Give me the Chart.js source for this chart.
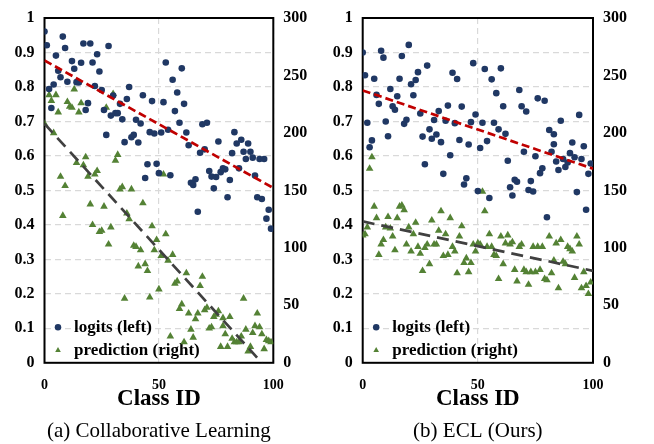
<!DOCTYPE html>
<html><head><meta charset="utf-8">
<script src="https://cdn.jsdelivr.net/npm/chart.js@4.4.1/dist/chart.umd.min.js"></script>
<style>
html,body{margin:0;padding:0;background:#fff;}
#wrap{position:relative;width:654px;height:444px;overflow:hidden;}
.pane{position:absolute;top:0;width:327px;height:444px;}
</style></head><body>
<div id="wrap">
<div class="pane" style="left:0"><canvas id="cA" width="327" height="444"></canvas></div>
<div class="pane" style="left:327px"><canvas id="cB" width="327" height="444"></canvas></div>
</div>
<script>
// ---------- (a) Collaborative Learning ----------
const clLogitsX = [0,1,2,3,4,5,6,7,8,9,10,12,13,14,15,16,17,18,19,20,21,22,23,24,25,26,27,28,29,30,31,32,33,34,35,36,37,38,39,40,41,42,43,44,45,46,47,48,49,50,51,52,53,54,55,56,57,58,59,60,61,62,63,64,65,66,67,68,69,70,71,72,73,74,75,76,77,78,79,80,81,82,83,84,85,86,87,88,89,90,91,92,93,94,95,96,97,98,99];
const clLogitsY = [0.961,0.921,0.794,0.739,0.807,0.891,0.847,0.828,0.946,0.913,
  0.815,0.875,0.853,0.814,0.813,0.870,0.926,0.733,0.753,0.926,
  0.871,0.803,0.895,0.845,0.791,0.733,0.661,0.919,0.717,0.775,
  0.724,0.724,0.751,0.706,0.640,0.765,0.800,0.654,0.661,0.705,
  0.639,0.694,0.776,0.536,0.576,0.669,0.759,0.665,0.577,0.550,
  0.668,0.756,0.871,0.676,0.544,0.821,0.730,0.784,0.696,0.854,
  0.751,0.668,0.631,0.522,0.516,0.532,0.438,0.609,0.692,0.619,
  0.696,0.556,0.540,0.506,0.539,0.642,0.553,0.564,0.561,0.480,
  0.530,0.608,0.669,0.636,0.564,0.647,0.612,0.591,0.636,0.612,
  0.595,0.543,0.480,0.591,0.475,0.591,0.418,0.444,0.389];
const clPredX = [0,2,3,4,5,6,7,8,9,10, 11,12,13,14,15,16,17,18,19,20, 21,22,23,24,25,26,27,28,29,30,
  31,32,33,34,35,36,37,38,39,40, 41,42,43,44,45,46,47,48,49,50, 51,52,53,54,55,56,57,58,59,60,
  61,62,63,64,65,66,67,68,69,70, 71,72,73,74,75,76,77,78,78,79, 80,81,82,83,84,85,86,87,88,89,
  90,91,92,93,94,95,96,97,98,99];
const clPredY = [208,233,228,200,233,218,162,128,154,227, 223,222,238,174,218,226,172,179,162,138,
  120,164,167,114,115,136,222,103,118,234, 176,181,151,153,56,130,125,151,102,101,
  84,98,139,86,80,57,119,98,107,64, 93,164,112,89,23,94,69,71,47,51,
  18,78,43,29,22,38,43,67,75,46, 48,30,31,40,42,45,14,32,39,25,
  14,40,21,18,18,18,23,56,29,10, 14,26,32,43,31,25,12,20,19,18];
const clTrendLogitsX = [0,100], clTrendLogitsY = [0.877,0.507];
const clTrendPredX = [0,95], clTrendPredY = [208,0];

// ---------- (b) ECL (Ours) ----------
const eclLogitsX = [0,1,2,3,4,5,6,7,8,9,10,11,12,13,14,15,16,17,18,19,20,21,22,23,24,25,26,27,28,29,
  30,31,32,33,34,35,36,37,38,39,40,41,42,43,44,45,46,47,48,49,50,51,52,53,54,55,56,57,58,59,
  60,61,62,63,64,65,66,67,68,69,70,71,72,73,74,75,76,77,78,79,80,81,82,83,83,84,85,86,87,88,89,
  90,91,92,93,94,95,96,97,98,99];
const eclLogitsY = [0.900,0.834,0.696,0.625,0.645,0.824,0.777,0.751,0.905,0.885,
  0.700,0.657,0.794,0.744,0.734,0.773,0.824,0.890,0.693,0.705,
  0.922,0.808,0.776,0.820,0.843,0.723,0.656,0.576,0.862,0.677,
  0.650,0.704,0.662,0.730,0.640,0.548,0.702,0.746,0.602,0.841,
  0.695,0.823,0.646,0.743,0.517,0.535,0.633,0.698,0.869,0.720,
  0.498,0.623,0.696,0.852,0.643,0.478,0.822,0.696,0.782,0.677,
  0.854,0.744,0.664,0.586,0.509,0.485,0.531,0.525,0.791,0.744,
  0.612,0.729,0.501,0.527,0.497,0.599,0.767,0.550,0.564,0.760,
  0.422,0.675,0.612,0.634,0.663,0.584,0.559,0.702,0.591,0.568,0.581,
  0.608,0.639,0.596,0.495,0.719,0.591,0.628,0.444,0.548,0.578];
const eclPredX = [0,1,2,3,4,5,6,7,8,9,10,11,12,13,14,15,16,17,18,19,20,21,22,23,24,25,26,27,28,29,
  30,31,32,33,34,35,36,37,38,39,40,41,42,43,44,45,46,47,48,49,50,51,52,53,54,55,56,57,58,59,
  60,61,62,63,64,65,66,67,68,69,70,71,72,73,74,75,76,77,78,79,80,81,82,83,84,85,86,87,88,89,
  90,91,92,93,94,95,96,97,98,99];
const eclPredY = [111,112,118,169,179,136,126,94,103,107,
  118,127,117,110,98,126,136,137,133,103,
  118,97,112,122,101,95,80,100,103,86,
  124,103,103,115,132,93,112,94,126,101,
  97,78,110,119,87,91,79,87,103,97,
  104,103,149,132,101,112,101,94,93,73,
  110,86,104,111,103,105,81,71,101,103,
  81,79,68,79,101,79,101,81,101,73,
  72,110,78,89,104,65,107,88,86,101,
  99,97,74,110,103,65,79,67,60,70];
const eclTrendLogitsX = [0,100], eclTrendLogitsY = [0.79,0.563];
const eclTrendPredX = [0,100], eclTrendPredY = [123,80];

const xTicks = [0,50,100];
const leftTicks = [0,0.1,0.2,0.3,0.4,0.5,0.6,0.7,0.8,0.9,1];
const rightTicks = [0,50,100,150,200,250,300];

// ---------- styling ----------
const FONT = "'Liberation Serif','Times New Roman',serif";
const NAVY = '#203864', GREEN = '#548235', RED = '#C00000', DGRAY = '#404040', GRID = '#d9d9d9';
const pts = (xs, ys) => xs.map((x, i) => ({x: x, y: ys[i]}));

const frame = {
  id: 'frame',
  afterLayout(chart) {
    // keep the in-plot legend anchored to the bottom-left of the plot area
    const lg = chart.legend, a = chart.chartArea;
    if (!lg) return;
    lg.left = a.left; lg.right = a.right;
    lg.top = a.top; lg.bottom = a.bottom + 2;
    lg.height = lg.bottom - lg.top; lg.width = lg.right - lg.left;
  },
  beforeDatasetsDraw(chart) {
    const {ctx, chartArea: a} = chart;
    ctx.save();
    ctx.strokeStyle = '#000';
    ctx.lineWidth = 2;
    ctx.strokeRect(a.left, a.top, a.right - a.left, a.bottom - a.top);
    ctx.restore();
  }
};

function build(id, d, L) {
  return new Chart(document.getElementById(id), {
    type: 'scatter',
    data: { datasets: [
      { label: 'logits (left)', data: pts(d.lx, d.ly), yAxisID: 'y', pointStyle: 'circle',
        pointRadius: 3.3, backgroundColor: NAVY, borderWidth: 0, order: 2 },
      { label: 'prediction (right)', data: pts(d.px, d.py), yAxisID: 'y2', pointStyle: 'triangle',
        pointRadius: 4.4, backgroundColor: GREEN, borderWidth: 0, order: 3 },
      { label: 'trend logits', data: pts(d.tlx, d.tly), yAxisID: 'y', showLine: true, pointRadius: 0,
        borderColor: RED, borderWidth: 2.7, borderDash: [8, 4], order: 1 },
      { label: 'trend prediction', data: pts(d.tpx, d.tpy), yAxisID: 'y2', showLine: true, pointRadius: 0,
        borderColor: DGRAY, borderWidth: 2.7, borderDash: [12, 7], order: 0 }
    ]},
    options: {
      responsive: false, animation: false, devicePixelRatio: 1, events: [],
      layout: { padding: { top: 8, left: 0, right: 0, bottom: 0 } },
      scales: {
        x: {
          type: 'linear', min: 0, max: 100,
          afterBuildTicks: s => { s.ticks = xTicks.map(v => ({value: v})); },
          afterFit: s => { s.height = 56; },
          ticks: { padding: 14, color: '#000', font: { family: FONT, size: 14, weight: 'bold', lineHeight: 1.2 } },
          grid: { color: GRID, lineWidth: 1.2, drawTicks: false },
          border: { display: false, dash: [6, 4] },
          title: { display: true, text: 'Class ID', color: '#000', padding: { top: 0, bottom: 6 },
                   font: { family: FONT, size: 23, weight: 'bold', lineHeight: 1.2 } }
        },
        y: {
          position: 'left', min: 0, max: 1,
          afterBuildTicks: s => { s.ticks = leftTicks.map(v => ({value: v})); },
          afterFit: s => { s.width = L.left; },
          ticks: { padding: 10, color: '#000', callback: v => String(+v.toFixed(1)),
                   font: { family: FONT, size: 16, weight: 'bold', lineHeight: 1 } },
          grid: { color: GRID, lineWidth: 1.2, drawTicks: false },
          border: { display: false, dash: [6, 4] }
        },
        y2: {
          position: 'right', min: 0, max: 300,
          afterBuildTicks: s => { s.ticks = rightTicks.map(v => ({value: v})); },
          afterFit: s => { s.width = L.right; },
          ticks: { padding: 10, color: '#000',
                   font: { family: FONT, size: 16, weight: 'bold', lineHeight: 1 } },
          grid: { display: false, drawTicks: false },
          border: { display: false }
        }
      },
      plugins: {
        tooltip: { enabled: false },
        legend: {
          position: 'chartArea', align: 'end',
          labels: {
            usePointStyle: true, boxWidth: 15, boxHeight: 4.6, padding: 6, color: '#000',
            font: { family: FONT, size: 17, weight: 'bold' },
            filter: it => it.datasetIndex < 2
          }
        },
        title: {
          display: true, position: 'bottom', fullSize: false, text: L.caption, color: '#000',
          padding: 0, font: { family: FONT, size: 21, weight: 'normal', lineHeight: 1.2 }
        }
      }
    },
    plugins: [frame]
  });
}

build('cA', { lx: clLogitsX, ly: clLogitsY, px: clPredX, py: clPredY,
  tlx: clTrendLogitsX, tly: clTrendLogitsY, tpx: clTrendPredX, tpy: clTrendPredY },
  { left: 44.5, right: 53.7, caption: '(a) Collaborative Learning' });
build('cB', { lx: eclLogitsX, ly: eclLogitsY, px: eclPredX, py: eclPredY,
  tlx: eclTrendLogitsX, tly: eclTrendLogitsY, tpx: eclTrendPredX, tpy: eclTrendPredY },
  { left: 35.7, right: 61, caption: '(b) ECL (Ours)' });
</script>
</body></html>
